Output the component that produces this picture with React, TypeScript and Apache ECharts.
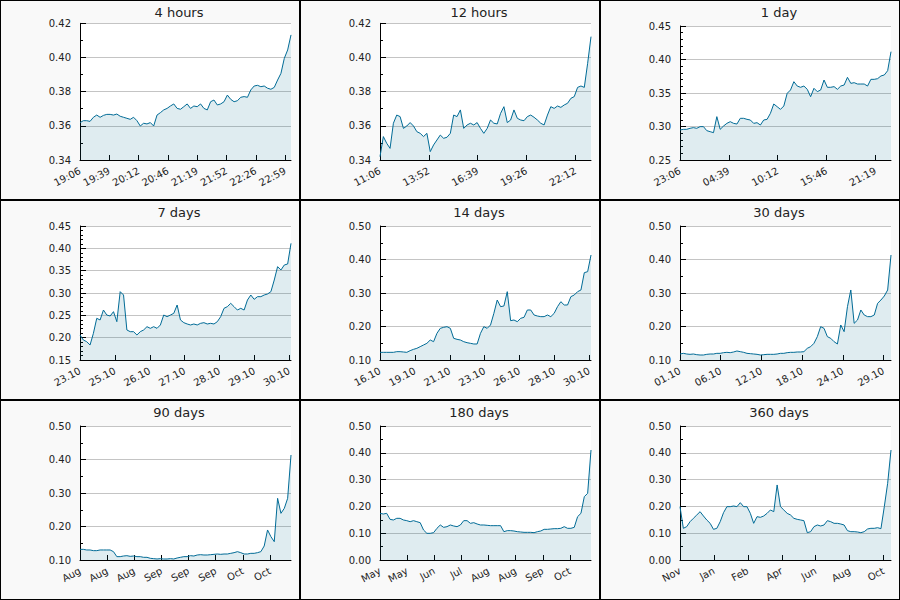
import React, { useEffect, useRef } from "react";
import * as echarts from "echarts";

const titles = ["4 hours", "12 hours", "1 day", "7 days", "14 days", "30 days", "90 days", "180 days", "360 days"];

const ticks4h = ["19:06", "19:39", "20:12", "20:46", "21:19", "21:52", "22:26", "22:59"];
const ticks12h = ["11:06", "13:52", "16:39", "19:26", "22:12"];
const ticks1d = ["23:06", "04:39", "10:12", "15:46", "21:19"];
const ticks7d = ["23.10", "25.10", "26.10", "27.10", "28.10", "29.10", "30.10"];
const ticks14d = ["16.10", "19.10", "21.10", "23.10", "26.10", "28.10", "30.10"];
const ticks30d = ["01.10", "06.10", "12.10", "18.10", "24.10", "29.10"];
const ticks90d = ["Aug", "Aug", "Aug", "Sep", "Sep", "Sep", "Oct", "Oct"];
const ticks180d = ["May", "May", "Jun", "Jul", "Aug", "Aug", "Sep", "Oct"];
const ticks360d = ["Nov", "Jan", "Feb", "Apr", "Jun", "Aug", "Oct"];

// length of each time window, measured in x-tick intervals
const spans = [7.2, 4.32, 4.32, 6.048, 6.048, 5.184, 7.776, 7.776, 6.2208];

// y axis ranges: [min, max, step, minor splits]
const yRanges = [
  [0.34, 0.42, 0.02, 2],
  [0.34, 0.42, 0.02, 2],
  [0.25, 0.45, 0.05, 5],
  [0.15, 0.45, 0.05, 5],
  [0.1, 0.5, 0.1, 2],
  [0.1, 0.5, 0.1, 2],
  [0.1, 0.5, 0.1, 2],
  [0.0, 0.5, 0.1, 2],
  [0.0, 0.5, 0.1, 2],
];

const v4h = [0.3619, 0.3630, 0.3630, 0.3626, 0.3650, 0.3663, 0.3650, 0.3661, 0.3667, 0.3667,
  0.3663, 0.3669, 0.3656, 0.3650, 0.3644, 0.3638, 0.3650, 0.3630, 0.3599, 0.3615,
  0.3611, 0.3619, 0.3599, 0.3663, 0.3677, 0.3693, 0.3702, 0.3716, 0.3728, 0.3702,
  0.3697, 0.3712, 0.3728, 0.3702, 0.3716, 0.3712, 0.3728, 0.3702, 0.3693, 0.3741,
  0.3751, 0.3722, 0.3728, 0.3741, 0.3780, 0.3755, 0.3741, 0.3747, 0.3767, 0.3771,
  0.3767, 0.3810, 0.3833, 0.3837, 0.3829, 0.3833, 0.3820, 0.3814, 0.3825, 0.3868,
  0.3907, 0.3995, 0.4044, 0.4132];

const v12h = [0.3420, 0.3537, 0.3498, 0.3468, 0.3615, 0.3663, 0.3654, 0.3585, 0.3599, 0.3619,
  0.3599, 0.3566, 0.3556, 0.3537, 0.3556, 0.3449, 0.3488, 0.3517, 0.3546, 0.3527,
  0.3533, 0.3556, 0.3663, 0.3654, 0.3693, 0.3585, 0.3605, 0.3615, 0.3605, 0.3619,
  0.3585, 0.3556, 0.3585, 0.3634, 0.3615, 0.3611, 0.3673, 0.3712, 0.3619, 0.3634,
  0.3693, 0.3644, 0.3634, 0.3630, 0.3654, 0.3663, 0.3650, 0.3634, 0.3615, 0.3605,
  0.3663, 0.3712, 0.3702, 0.3716, 0.3708, 0.3722, 0.3732, 0.3761, 0.3771, 0.3825,
  0.3833, 0.3825, 0.3966, 0.4122];

const v1d = [0.2948, 0.2958, 0.2958, 0.2973, 0.2983, 0.2973, 0.2998, 0.2998, 0.2938, 0.2923,
  0.2908, 0.3147, 0.2958, 0.3007, 0.3047, 0.3072, 0.3047, 0.3037, 0.3122, 0.3122,
  0.3107, 0.3097, 0.3047, 0.3057, 0.3022, 0.3097, 0.3107, 0.3197, 0.3336, 0.3296,
  0.3256, 0.3306, 0.3495, 0.3545, 0.3669, 0.3604, 0.3585, 0.3604, 0.3555, 0.3445,
  0.3570, 0.3520, 0.3545, 0.3694, 0.3585, 0.3585, 0.3595, 0.3555, 0.3604, 0.3619,
  0.3734, 0.3644, 0.3654, 0.3634, 0.3634, 0.3634, 0.3604, 0.3704, 0.3704, 0.3714,
  0.3754, 0.3769, 0.3833, 0.4117];

const v7d = [0.2060, 0.1948, 0.1910, 0.1836, 0.2097, 0.2433, 0.2396, 0.2619, 0.2507, 0.2485,
  0.2582, 0.2358, 0.3030, 0.2955, 0.2172, 0.2134, 0.2134, 0.2060, 0.2134, 0.2172,
  0.2246, 0.2209, 0.2246, 0.2209, 0.2284, 0.2507, 0.2470, 0.2507, 0.2545, 0.2731,
  0.2396, 0.2336, 0.2306, 0.2284, 0.2306, 0.2284, 0.2321, 0.2336, 0.2306, 0.2321,
  0.2306, 0.2358, 0.2470, 0.2657, 0.2694, 0.2769, 0.2694, 0.2619, 0.2657, 0.2619,
  0.2843, 0.2955, 0.2858, 0.2918, 0.2918, 0.2955, 0.2978, 0.3030, 0.3291, 0.3590,
  0.3515, 0.3627, 0.3649, 0.4112];

const v14d = [0.1229, 0.1229, 0.1229, 0.1229, 0.1229, 0.1249, 0.1249, 0.1239, 0.1229, 0.1279,
  0.1318, 0.1348, 0.1398, 0.1448, 0.1498, 0.1597, 0.1547, 0.1796, 0.1945, 0.1975,
  0.1995, 0.1945, 0.1647, 0.1617, 0.1597, 0.1547, 0.1517, 0.1498, 0.1478, 0.1478,
  0.1796, 0.1995, 0.1945, 0.2045, 0.2393, 0.2791, 0.2592, 0.2612, 0.3040, 0.2174,
  0.2194, 0.2144, 0.2244, 0.2274, 0.2493, 0.2493, 0.2343, 0.2313, 0.2294, 0.2294,
  0.2343, 0.2294, 0.2393, 0.2592, 0.2741, 0.2642, 0.2642, 0.2891, 0.2940, 0.3040,
  0.3090, 0.3607, 0.3637, 0.4134];

const v30d = [0.1179, 0.1199, 0.1179, 0.1169, 0.1179, 0.1159, 0.1149, 0.1149, 0.1169, 0.1179,
  0.1179, 0.1199, 0.1199, 0.1219, 0.1229, 0.1219, 0.1239, 0.1269, 0.1249, 0.1229,
  0.1199, 0.1189, 0.1179, 0.1169, 0.1149, 0.1159, 0.1169, 0.1169, 0.1169, 0.1179,
  0.1199, 0.1199, 0.1219, 0.1229, 0.1229, 0.1239, 0.1239, 0.1249, 0.1348, 0.1398,
  0.1498, 0.1697, 0.1995, 0.1945, 0.1697, 0.1647, 0.1547, 0.1478, 0.2045, 0.1846,
  0.2592, 0.3090, 0.2095, 0.2194, 0.2493, 0.2343, 0.2294, 0.2294, 0.2343, 0.2692,
  0.2791, 0.2910, 0.3090, 0.4134];

const v90d = [0.1318, 0.1318, 0.1299, 0.1299, 0.1279, 0.1279, 0.1299, 0.1299, 0.1299, 0.1299,
  0.1249, 0.1100, 0.1100, 0.1119, 0.1129, 0.1109, 0.1119, 0.1100, 0.1100, 0.1080,
  0.1080, 0.1050, 0.1040, 0.1030, 0.1040, 0.1030, 0.1030, 0.1040, 0.1030, 0.1060,
  0.1080, 0.1100, 0.1100, 0.1129, 0.1119, 0.1149, 0.1159, 0.1149, 0.1149, 0.1159,
  0.1169, 0.1179, 0.1169, 0.1179, 0.1179, 0.1199, 0.1219, 0.1249, 0.1219, 0.1179,
  0.1179, 0.1199, 0.1199, 0.1219, 0.1249, 0.1418, 0.1896, 0.1697, 0.1547, 0.2841,
  0.2393, 0.2542, 0.2841, 0.4134];

const v180d = [0.1741, 0.1716, 0.1741, 0.1517, 0.1493, 0.1555, 0.1555, 0.1493, 0.1468, 0.1430,
  0.1468, 0.1430, 0.1393, 0.1119, 0.0995, 0.0995, 0.1020, 0.1182, 0.1306, 0.1219,
  0.1244, 0.1306, 0.1269, 0.1244, 0.1306, 0.1468, 0.1468, 0.1368, 0.1393, 0.1343,
  0.1306, 0.1306, 0.1294, 0.1281, 0.1281, 0.1281, 0.1281, 0.1057, 0.1095, 0.1095,
  0.1082, 0.1057, 0.1045, 0.1032, 0.1032, 0.1032, 0.1020, 0.1057, 0.1082, 0.1144,
  0.1144, 0.1157, 0.1169, 0.1169, 0.1182, 0.1244, 0.1182, 0.1182, 0.1219, 0.1617,
  0.1741, 0.2363, 0.2488, 0.4104];

const v360d = [0.1990, 0.1182, 0.1244, 0.1430, 0.1555, 0.1679, 0.1803, 0.1642, 0.1493, 0.1368,
  0.1144, 0.1182, 0.1430, 0.1766, 0.1990, 0.1990, 0.2015, 0.1990, 0.2139, 0.1990,
  0.1990, 0.1741, 0.1368, 0.1617, 0.1592, 0.1642, 0.1741, 0.1866, 0.1803, 0.2800,
  0.1990, 0.1866, 0.1741, 0.1679, 0.1555, 0.1517, 0.1493, 0.1468, 0.1020, 0.1057,
  0.1244, 0.1306, 0.1269, 0.1306, 0.1468, 0.1430, 0.1368, 0.1368, 0.1343, 0.1306,
  0.1095, 0.1057, 0.1057, 0.1045, 0.1020, 0.1057, 0.1157, 0.1182, 0.1182, 0.1206,
  0.1169, 0.1990, 0.2861, 0.4104];

const allTicks = [ticks4h, ticks12h, ticks1d, ticks7d, ticks14d, ticks30d, ticks90d, ticks180d, ticks360d];
const allValues = [v4h, v12h, v1d, v7d, v14d, v30d, v90d, v180d, v360d];

const FONT = "DejaVu Sans";
const TEXT = "#222";
const LINE = "#006b96";

export default function App() {
  const ref = useRef<HTMLDivElement>(null);

  useEffect(() => {
    if (!ref.current) return;
    const chart = echarts.init(ref.current, undefined, { renderer: "svg", width: 900, height: 600 });

    const grids: any[] = [];
    const xAxes: any[] = [];
    const yAxes: any[] = [];
    const series: any[] = [];
    const graphics: any[] = [];

    for (let i = 0; i < 9; i++) {
      const col = i % 3;
      const row = Math.floor(i / 3);
      const [yMin, yMax, yStep, minor] = yRanges[i];
      const top = i < 2 ? 23.3 : 26;
      const ticks = allTicks[i];
      const span = spans[i];
      const vals = allValues[i];
      const tickVals = ticks.map((_, k) => k);

      grids.push({
        left: col * 300 + 80,
        top: row * 200 + top,
        width: 211,
        height: 160 - top,
        show: true,
        backgroundColor: "#ffffff",
        borderWidth: 0,
        containLabel: false,
      });

      xAxes.push({
        type: "value",
        gridIndex: i,
        min: 0,
        max: span,
        axisLine: { show: true, onZero: false, lineStyle: { color: "#000", width: 1 } },
        axisTick: { show: true, inside: true, length: 5, customValues: tickVals, lineStyle: { color: "#000" } },
        axisLabel: {
          customValues: tickVals,
          formatter: (v: number) => ticks[Math.round(v)] ?? "",
          rotate: 28,
          fontSize: 10,
          fontFamily: FONT,
          color: TEXT,
          margin: 10,
        },
        splitLine: { show: false },
      });

      yAxes.push({
        type: "value",
        gridIndex: i,
        min: yMin,
        max: yMax,
        interval: yStep,
        axisLine: { show: true, onZero: false, lineStyle: { color: "#000", width: 1 } },
        axisTick: { show: true, inside: true, length: 6, lineStyle: { color: "#000" } },
        minorTick: { show: true, splitNumber: minor, length: 3, lineStyle: { color: "#000" } },
        axisLabel: {
          formatter: (v: number) => v.toFixed(2),
          fontSize: 10,
          fontFamily: FONT,
          color: TEXT,
          margin: 9,
        },
        splitLine: { show: true, lineStyle: { color: "#c4c4c4", width: 1 } },
      });

      series.push({
        type: "line",
        xAxisIndex: i,
        yAxisIndex: i,
        data: vals.map((v, k) => [(k * span) / (vals.length - 1), v]),
        symbol: "none",
        showSymbol: false,
        lineStyle: { color: LINE, width: 1 },
        areaStyle: { color: "rgba(0,104,139,0.18)" },
        silent: true,
      });

      graphics.push({
        type: "text",
        x: col * 300 + 179,
        y: row * 200 + 12,
        z: 100,
        style: {
          text: titles[i],
          align: "center",
          verticalAlign: "middle",
          font: `13px "${FONT}"`,
          fill: TEXT,
        },
      });
    }

    chart.setOption({
      animation: false,
      backgroundColor: "transparent",
      textStyle: { fontFamily: FONT },
      grid: grids,
      xAxis: xAxes,
      yAxis: yAxes,
      series,
      graphic: graphics,
    });

    return () => chart.dispose();
  }, []);

  const panels = [];
  for (let i = 0; i < 9; i++) {
    panels.push(
      <div
        key={i}
        style={{
          position: "absolute",
          left: (i % 3) * 300,
          top: Math.floor(i / 3) * 200,
          width: 300,
          height: 200,
          boxSizing: "border-box",
          border: "1px solid #000",
          background: "#f9f9f9",
        }}
      />
    );
  }

  return (
    <div style={{ position: "fixed", left: 0, top: 0, width: 900, height: 600, background: "#fff" }}>
      {panels}
      <div ref={ref} style={{ position: "absolute", left: 0, top: 0, width: 900, height: 600 }} />
    </div>
  );
}
